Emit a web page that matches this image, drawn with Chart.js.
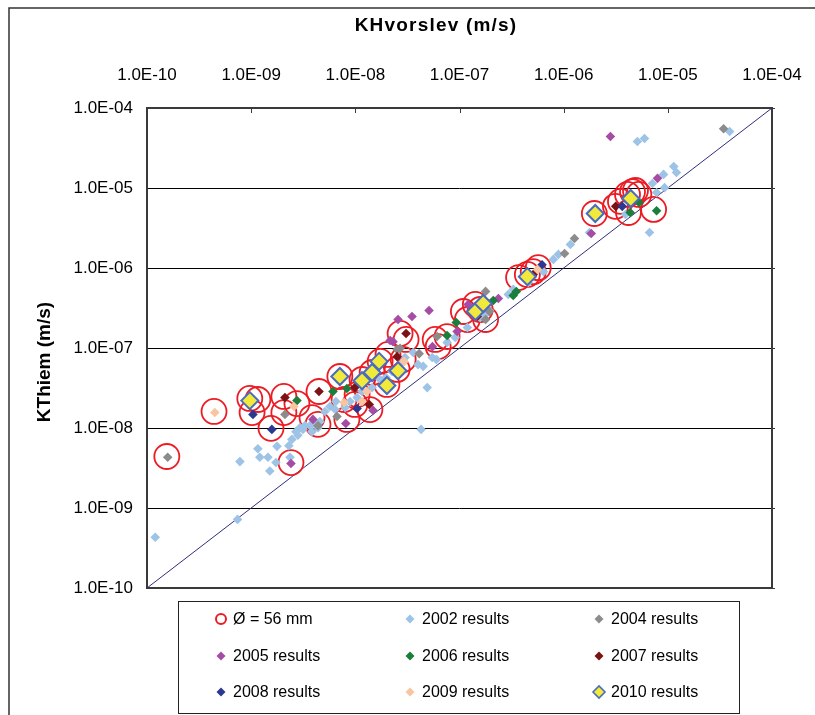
<!DOCTYPE html>
<html>
<head>
<meta charset="utf-8">
<script src="https://cdn.jsdelivr.net/npm/chart.js@4.4.1/dist/chart.umd.min.js"></script>
<style>
  html, body { margin: 0; padding: 0; background: #fff; }
  #wrap { position: relative; width: 815px; height: 715px; }
</style>
</head>
<body>
<div id="wrap"><canvas id="chart" width="815" height="715"></canvas></div>
<script>
// decade ticks shared by both log axes
const tickValues = [1e-10, 1e-9, 1e-8, 1e-7, 1e-6, 1e-5, 1e-4]
const tickLabels = ["1.0E-10", "1.0E-09", "1.0E-08", "1.0E-07", "1.0E-06", "1.0E-05", "1.0E-04"]

const xTitle = "KHvorslev (m/s)"
const yTitle = "KThiem (m/s)"

// [KHvorslev, KThiem] pairs, one list per series
const circles56 = [
    [1.55e-10, 4.4e-9], [4.4e-10, 1.61e-8], [9.7e-10, 2.34e-8], [1.16e-9, 2.27e-8], [1.02e-9, 1.56e-8],
    [1.55e-9, 9.9e-9], [2.06e-9, 2.48e-8], [2.06e-9, 1.56e-8], [2.41e-9, 3.7e-9], [2.75e-9, 2.02e-8],
    [4.48e-9, 2.86e-8], [3.84e-9, 1.35e-8], [4.38e-9, 1.11e-8], [7.1e-9, 4.4e-8], [8.3e-9, 1.28e-8],
    [9.9e-9, 1.97e-8], [1.04e-8, 2.62e-8], [1.16e-8, 4.04e-8], [1.38e-8, 1.7e-8], [1.45e-8, 4.94e-8],
    [1.73e-8, 6.8e-8], [2.01e-8, 3.5e-8], [2.52e-8, 5.4e-8], [2.88e-8, 7.2e-8], [3.07e-8, 1.28e-7],
    [2.69e-8, 1.52e-7], [2.06e-8, 8.3e-8], [5.84e-8, 1.28e-7], [6.24e-8, 1.04e-7], [7.6e-8, 1.39e-7],
    [1.09e-7, 2.86e-7], [1.19e-7, 2.27e-7], [1.42e-7, 3.5e-7], [1.58e-7, 3.03e-7], [1.78e-7, 2.27e-7],
    [4.48e-7, 8.3e-7], [3.69e-7, 7.6e-7], [5.1e-7, 9.0e-7], [5.7e-7, 1.01e-6], [1.97e-6, 4.8e-6],
    [3.14e-6, 5.9e-6], [3.51e-6, 6.8e-6], [4.1e-6, 8.3e-6], [4.58e-6, 9.0e-6], [4.89e-6, 9.3e-6],
    [5.27e-6, 8.3e-6], [4.19e-6, 4.94e-6], [7.3e-6, 5.4e-6], [7.8e-9, 2.27e-8],
]
const results2002 = [
    [1.2e-10, 4.3e-10], [7.4e-10, 7.2e-10], [7.8e-10, 3.8e-9], [1.16e-9, 5.5e-9], [1.21e-9, 4.3e-9],
    [1.45e-9, 4.3e-9], [1.51e-9, 2.9e-9], [1.77e-9, 5.9e-9], [1.73e-9, 3.7e-9], [2.3e-9, 6.0e-9],
    [2.36e-9, 4.3e-9], [2.46e-9, 7.2e-9], [2.69e-9, 9.0e-9], [2.94e-9, 1.01e-8], [3.28e-9, 1.07e-8],
    [3.67e-9, 1.07e-8], [4.1e-9, 1.14e-8], [4.57e-9, 1.2e-8], [5.1e-9, 1.61e-8], [5.7e-9, 1.86e-8],
    [6.5e-9, 2.14e-8], [8.0e-9, 1.8e-8], [8.9e-9, 2.14e-8], [1.04e-8, 2.4e-8], [1.73e-8, 4.04e-8],
    [1.97e-8, 4.28e-8], [2.69e-8, 6.2e-8], [3.0e-8, 7.6e-8], [4.0e-8, 6.2e-8], [4.48e-8, 5.9e-8],
    [3.59e-8, 8.8e-8], [4.28e-8, 9.6e-9], [4.9e-8, 3.2e-8], [6.0e-8, 7.2e-8], [7.6e-8, 1.17e-7],
    [9.1e-8, 1.35e-7], [1.19e-7, 1.8e-7], [1.58e-7, 2.4e-7], [1.94e-7, 2.94e-7], [2.94e-7, 4.67e-7],
    [3.28e-7, 5.4e-7], [4.57e-7, 6.6e-7], [6.4e-7, 9.0e-7], [7.96e-7, 1.28e-6], [8.9e-7, 1.48e-6],
    [1.16e-6, 1.97e-6], [1.77e-6, 2.78e-6], [3.92e-6, 4.67e-6], [6.67e-6, 2.78e-6], [7.1e-6, 1.14e-5],
    [7.8e-6, 8.8e-6], [9.1e-6, 1.48e-5], [9.3e-6, 1.01e-5], [1.14e-5, 1.86e-5], [1.21e-5, 1.56e-5],
    [5.1e-6, 3.81e-5], [5.97e-6, 4.16e-5], [3.92e-5, 5.08e-5], [2.81e-9, 8.1e-9], [3.14e-9, 9.6e-9],
    [3.84e-9, 9.0e-9], [4.38e-9, 1.01e-8], [6.4e-9, 1.7e-8], [1.16e-8, 2.86e-8], [1.45e-8, 3.2e-8],
    [2.25e-8, 5.08e-8], [5.47e-8, 7.6e-8], [1.77e-7, 2.62e-7],
]
const results2004 = [
    [1.58e-10, 4.3e-9], [2.11e-9, 1.48e-8], [4.38e-9, 1.07e-8], [6.67e-9, 1.39e-8], [2.52e-8, 9.6e-8],
    [4.1e-8, 8.5e-8], [6.1e-8, 1.39e-7], [2.69e-8, 9.9e-8], [1.78e-7, 5.1e-7], [1.78e-7, 2.27e-7],
    [1.94e-7, 2.86e-7], [1.27e-6, 2.34e-6], [1.02e-6, 1.52e-6], [3.43e-5, 5.5e-5],
]
const results2005 = [
    [2.41e-9, 3.6e-9], [3.92e-9, 1.28e-8], [8.1e-9, 1.14e-8], [1.48e-8, 1.66e-8], [2.3e-8, 1.2e-7],
    [2.57e-8, 2.27e-7], [3.5e-8, 2.48e-7], [5.1e-8, 2.94e-7], [9.5e-8, 1.61e-7], [5.5e-8, 1.04e-7],
    [2.16e-8, 1.24e-7], [1.21e-7, 3.5e-7], [2.36e-7, 4.16e-7], [1.84e-6, 2.7e-6], [2.81e-6, 4.4e-5],
    [7.96e-6, 1.32e-5],
]
const results2006 = [
    [2.75e-9, 2.2e-8], [6.1e-9, 2.86e-8], [8.3e-9, 3.12e-8], [7.6e-8, 1.43e-7], [9.3e-8, 2.08e-7],
    [2.11e-7, 3.92e-7], [3.51e-7, 5.08e-7], [3.28e-7, 4.53e-7], [4.35e-6, 4.94e-6], [5.3e-6, 6.6e-6],
    [7.8e-6, 5.2e-6],
]
const results2007 = [
    [2.11e-9, 2.4e-8], [4.48e-9, 2.86e-8], [9.9e-9, 3.2e-8], [1.36e-8, 1.97e-8], [3.07e-8, 1.52e-7],
    [2.52e-8, 7.8e-8], [1.48e-7, 2.48e-7], [5.1e-7, 8.3e-7], [3.16e-6, 5.9e-6],
]
const results2008 = [
    [1.04e-9, 1.48e-8], [1.58e-9, 9.6e-9], [1.04e-8, 1.75e-8], [6.2e-7, 1.1e-6], [3.65e-6, 5.9e-6],
]
const results2009 = [
    [4.48e-10, 1.56e-8], [2.57e-9, 1.86e-8], [7.8e-9, 2.08e-8], [1.16e-8, 2.14e-8], [1.29e-8, 2.86e-8],
    [2.94e-8, 6.8e-8], [5.6e-7, 9.6e-7],
]
const results2010 = [
    [9.7e-10, 2.2e-8], [7.1e-9, 4.4e-8], [1.16e-8, 3.9e-8], [1.45e-8, 4.94e-8], [1.69e-8, 6.8e-8],
    [2.01e-8, 3.4e-8], [2.57e-8, 5.2e-8], [1.42e-7, 2.86e-7], [1.69e-7, 3.6e-7], [4.48e-7, 7.8e-7],
    [2.01e-6, 4.8e-6], [4.4e-6, 7.4e-6],
]
const oneToOne = [[1e-10, 1e-10], [1e-4, 1e-4]]

const FONT = "Arial, 'Liberation Sans', sans-serif"
const toXY = (pairs) => pairs.map(([x, y]) => ({ x, y }))

const diamond = (label, pairs, color, order) => ({
    label,
    data: toXY(pairs),
    pointStyle: "rectRot",
    pointRadius: 4.8,
    backgroundColor: color,
    borderColor: color,
    borderWidth: 0,
    order,
})

const datasets = [
    {
        label: "Ø = 56 mm",
        data: toXY(circles56),
        pointStyle: "circle",
        pointRadius: 12.5,
        backgroundColor: "rgba(0,0,0,0)",
        borderColor: "#ec1c24",
        borderWidth: 1.8,
        order: 9,
    },
    diamond("2002 results", results2002, "#9dc3e6", 8),
    diamond("2004 results", results2004, "#8c8c8c", 7),
    diamond("2005 results", results2005, "#a64ca6", 6),
    diamond("2006 results", results2006, "#1a7f3c", 5),
    diamond("2007 results", results2007, "#7a1216", 4),
    diamond("2008 results", results2008, "#2b3990", 3),
    diamond("2009 results", results2009, "#f7c6a0", 2),
    {
        label: "2010 results",
        data: toXY(results2010),
        pointStyle: "rectRot",
        pointRadius: 8.5,
        backgroundColor: "#f2ea3a",
        borderColor: "#4a6cc0",
        borderWidth: 2,
        order: 1,
    },
    {
        label: "1:1",
        data: toXY(oneToOne),
        showLine: true,
        pointRadius: 0,
        borderColor: "#2e2f7c",
        borderWidth: 1,
        order: 20,
        inLegend: false,
    },
]

// legend grid inside the box under the plot
const legendCols = [221, 410, 599]
const legendRows = [619, 656, 692]

function drawMarker(ctx, ds, x, y) {
    ctx.save()
    ctx.beginPath()
    if (ds.pointStyle === "circle") {
        ctx.arc(x, y, 5, 0, Math.PI * 2)
        ctx.lineWidth = 2
        ctx.strokeStyle = ds.borderColor
        ctx.stroke()
    } else {
        const r = ds.borderWidth ? 6 : 4.5
        ctx.moveTo(x - r, y)
        ctx.lineTo(x, y - r)
        ctx.lineTo(x + r, y)
        ctx.lineTo(x, y + r)
        ctx.closePath()
        ctx.fillStyle = ds.backgroundColor
        ctx.fill()
        if (ds.borderWidth) {
            ctx.lineWidth = 1.6
            ctx.strokeStyle = ds.borderColor
            ctx.stroke()
        }
    }
    ctx.restore()
}

const decorations = {
    id: "decorations",
    beforeDatasetsDraw(chart) {
        const { ctx, chartArea: a, scales } = chart
        ctx.save()
        ctx.strokeStyle = "#3a3a3a"
        ctx.lineWidth = 2
        ctx.strokeRect(a.left, a.top, a.right - a.left, a.bottom - a.top)
        ctx.lineWidth = 1
        ctx.beginPath()
        tickValues.forEach((v) => {
            const px = Math.round(scales.x.getPixelForValue(v)) + 0.5
            ctx.moveTo(px, a.top)
            ctx.lineTo(px, a.top + 5)
            const py = Math.round(scales.y.getPixelForValue(v)) + 0.5
            ctx.moveTo(a.right, py)
            ctx.lineTo(a.right + 3, py)
        })
        ctx.stroke()
        ctx.restore()
    },
    afterDraw(chart) {
        const { ctx } = chart
        ctx.save()

        // outer frame of the figure
        ctx.strokeStyle = "#333"
        ctx.lineWidth = 1.5
        ctx.beginPath()
        ctx.moveTo(9, 715)
        ctx.lineTo(9, 8)
        ctx.lineTo(815, 8)
        ctx.stroke()

        // axis titles
        ctx.fillStyle = "#000"
        ctx.font = "bold 19px " + FONT
        ctx.textAlign = "center"
        ctx.textBaseline = "middle"
        ctx.letterSpacing = "1.2px"
        ctx.fillText(xTitle, 436, 26)
        ctx.letterSpacing = "0px"
        ctx.save()
        ctx.translate(45, 362)
        ctx.rotate(-Math.PI / 2)
        ctx.fillText(yTitle, 0, 0)
        ctx.restore()

        // legend box
        ctx.strokeStyle = "#222"
        ctx.lineWidth = 1
        ctx.strokeRect(178.5, 601.5, 561, 112)
        ctx.font = "16px " + FONT
        ctx.textAlign = "left"
        chart.data.datasets
            .filter((ds) => ds.inLegend !== false)
            .forEach((ds, i) => {
                const x = legendCols[i % 3]
                const y = legendRows[Math.floor(i / 3)]
                drawMarker(ctx, ds, x, y)
                ctx.fillStyle = "#000"
                ctx.fillText(ds.label, x + 12, y + 1)
            })
        ctx.restore()
    },
}

new Chart(document.getElementById("chart"), {
    type: "scatter",
    data: { datasets },
    plugins: [decorations],
    options: {
        responsive: false,
        animation: false,
        devicePixelRatio: 1,
        layout: { padding: { left: 0, top: 0, right: 43, bottom: 127 } },
        plugins: {
            legend: { display: false },
            tooltip: { enabled: false },
            title: { display: false },
        },
        scales: {
            x: {
                type: "logarithmic",
                position: "top",
                min: 1e-10,
                max: 1e-4,
                afterBuildTicks: (axis) => {
                    axis.ticks = tickValues.map((v) => ({ value: v }))
                },
                afterFit: (axis) => {
                    axis.height = 108
                },
                ticks: {
                    callback: (v, i) => tickLabels[i],
                    font: { family: FONT, size: 17 },
                    color: "#000",
                    padding: 0,
                    maxRotation: 0,
                    autoSkip: false,
                },
                // invisible tick marks keep the labels clear of the frame
                grid: {
                    drawOnChartArea: false,
                    drawTicks: true,
                    tickLength: 22,
                    tickColor: "rgba(0,0,0,0)",
                },
                border: { display: false },
            },
            y: {
                type: "logarithmic",
                min: 1e-10,
                max: 1e-4,
                afterBuildTicks: (axis) => {
                    axis.ticks = tickValues.map((v) => ({ value: v }))
                },
                afterFit: (axis) => {
                    axis.width = 147
                },
                ticks: {
                    callback: (v, i) => tickLabels[i],
                    font: { family: FONT, size: 17 },
                    color: "#000",
                    padding: 14,
                    autoSkip: false,
                },
                grid: { color: "#000", lineWidth: 1, drawTicks: false },
                border: { display: false },
            },
        },
    },
})
</script>
</body>
</html>
